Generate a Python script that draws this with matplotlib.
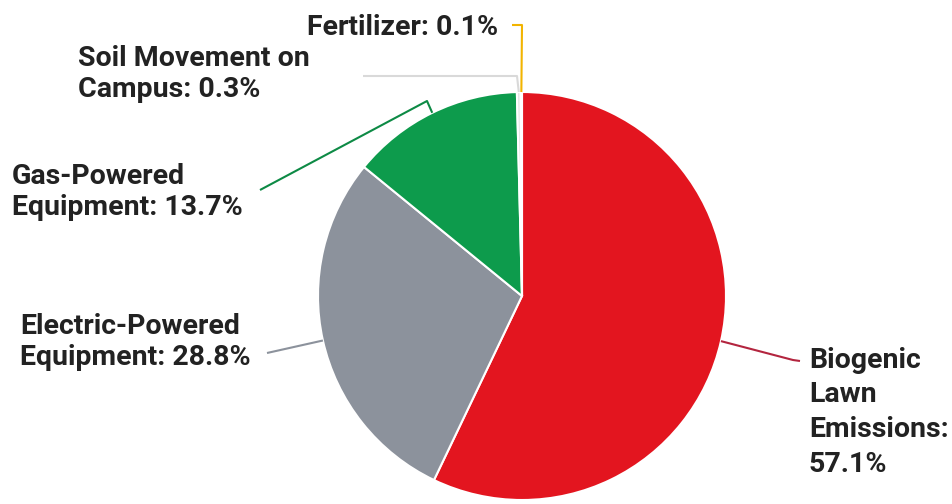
import numpy as np
import matplotlib

matplotlib.use("Agg")
import matplotlib.pyplot as plt

W, H = 952, 504

# slice data, clockwise from 12 o'clock
categories = ["Biogenic Lawn Emissions", "Electric-Powered Equipment",
              "Gas-Powered Equipment", "Soil Movement on Campus", "Fertilizer"]
shares = [57.1, 28.8, 13.7, 0.3, 0.1]
labels = ["Biogenic\nLawn\nEmissions:\n57.1%",
          "Electric-Powered\nEquipment: 28.8%",
          "Gas-Powered\nEquipment: 13.7%",
          "Soil Movement on\nCampus: 0.3%",
          "Fertilizer: 0.1%"]
colors = ["#e3151f", "#8c929c", "#0d9b4c", "#e4e4e4", "#f2b400"]
leader_colors = ["#b3253f", "#8c929c", "#0d8a45", "#d9d9d9", "#f2b400"]

plt.rcParams["font.family"] = ["Roboto", "DejaVu Sans"]

fig = plt.figure(figsize=(W / 100, H / 100), dpi=100)
ax = fig.add_axes([0, 0, 1, 1])

cx, cy, r = 522, H - 296, 204
wedges, _ = ax.pie(shares, colors=colors, startangle=90, counterclock=False,
                   center=(cx, cy), radius=r, frame=True,
                   wedgeprops={"edgecolor": "white", "linewidth": 1.5})
ax.set_xlim(0, W)
ax.set_ylim(0, H)
ax.set_aspect("equal")
ax.axis("off")

# label placement: x, baseline of last line (pixels from top), alignment
label_pos = [(809, 472, "left"), (20, 365, "left"), (12, 215, "left"),
             (78, 97, "left"), (498, 35, "right")]
elbows = [[(793, 360), (800, 361)],
          [(267, 353)],
          [(427, 101), (260, 190)],
          [(517, 76), (363, 76)],
          [(522, 25), (512, 25)]]
spacing = [1.37, 1.18, 1.18, 1.18, 1.2]

for i, w in enumerate(wedges):
    ang = np.deg2rad((w.theta1 + w.theta2) / 2)
    ax0, ay0 = cx + r * np.cos(ang), cy + r * np.sin(ang)
    xs = [ax0] + [p[0] for p in elbows[i]]
    ys = [ay0] + [H - p[1] for p in elbows[i]]
    ax.plot(xs, ys, color=leader_colors[i], lw=1.5, solid_capstyle="butt")
    lx, ly, ha = label_pos[i]
    ax.text(lx, H - ly, labels[i], ha=ha, va="baseline", fontsize=20.5,
            fontweight="bold", color="#222222", linespacing=spacing[i])

fig.savefig("out.png", dpi=100, facecolor="white")
